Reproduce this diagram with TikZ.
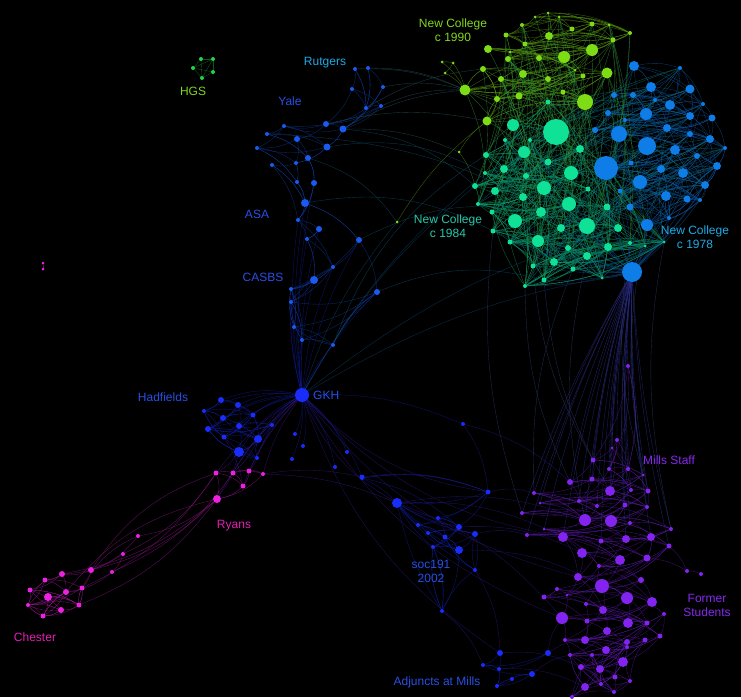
\documentclass[tikz,border=0pt]{standalone}
\usepackage{fontspec}
\setmainfont{Liberation Sans}
\usetikzlibrary{positioning}

\pgfdeclarelayer{back}
\pgfdeclarelayer{edges}
\pgfsetlayers{back,edges,main}

\definecolor{nclime}{RGB}{125,220,20}
\definecolor{ncteal}{RGB}{15,225,150}
\definecolor{ncblue}{RGB}{15,125,232}
\definecolor{yaleblue}{RGB}{25,90,240}
\definecolor{gkhblue}{RGB}{25,45,250}
\definecolor{millspurple}{RGB}{130,35,240}
\definecolor{ryanpink}{RGB}{235,35,225}
\definecolor{hgsgreen}{RGB}{35,210,70}
\definecolor{lbllime}{RGB}{130,215,30}
\definecolor{lblteal}{RGB}{40,200,170}
\definecolor{lblcyan}{RGB}{30,170,230}
\definecolor{lblblue}{RGB}{40,80,230}
\definecolor{lblpurple}{RGB}{135,40,238}
\definecolor{lblpink}{RGB}{225,30,180}

\begin{document}
\begin{tikzpicture}[x=1pt,y=-1pt]
    % --- Style Definitions ---
    \tikzset{
        vertex/.style={circle, inner sep=0pt, outer sep=0pt, draw=none},
        link/.style={line width=0.35pt, opacity=0.7},
        label text/.style={font=\fontsize{12}{14}\selectfont, align=center, inner sep=0pt}
    }

    % --- 1. Background ---
    \begin{pgfonlayer}{back}
    \fill[black] (0,0) rectangle (741,697);
    \end{pgfonlayer}
    \pgfmathsetseed{11}

    % --- 2. New College Clusters ---
    \foreach \x/\y/\r [count=\i] in {535/17/1.5, 548/13/1.5, 559/17/1.5, 522/25/2, 572/29/2.5,
        592/24/2.5, 609/25/1.5, 630/33/2, 506/35/2.5, 549/36/4, 525/44/2.5, 613/40/2.5,
        488/49/4, 510/52/1.5, 508/59/3, 539/58/3, 564/57/6, 592/50/6, 575/70/1.5, 483/69/3,
        523/74/4, 548/79/3, 583/76/2.5, 607/73/5.5, 501/79/3, 465/90/5.5, 497/99/3,
        519/96/3.5, 563/92/2.5, 585/102/8, 487/121/4.5, 442/62/1.5, 453/63/1.5, 445/73/1.5,
        459/152/1.5, 397/222/1.5}
        {\node[vertex, fill=nclime, minimum size=2*\r] (lm\i) at (\x,\y) {};}
    \def\nlm{31}

    \foreach \x/\y/\r [count=\i] in {548/102/2.5, 513/125/6, 556/132/13, 524/152/6, 580/149/4,
        486/155/3, 548/162/3.5, 504/169/4, 526/176/3, 571/173/7, 475/186/3, 495/191/4,
        544/188/7, 523/197/4, 569/204/7, 588/189/2.5, 485/173/2, 478/204/2, 492/212/2.5,
        541/212/5, 515/221/7, 561/228/4, 587/226/8, 607/207/3.5, 618/228/4, 493/231/2.5,
        510/242/2.5, 538/241/6, 568/248/3, 587/256/4, 608/247/4, 554/262/4, 533/266/2.5,
        544/280/2.5, 573/269/2.5, 525/286/2, 602/278/1.5, 630/243/2, 645/246/1.5,
        664/242/1.5, 530/140/2, 600/160/2, 505/140/2}
        {\node[vertex, fill=ncteal, minimum size=2*\r] (tl\i) at (\x,\y) {}; \xdef\ntl{\i}}

    \foreach \x/\y/\r [count=\i] in {634/66/5, 680/68/2, 651/87/5, 690/89/4.5, 614/95/3,
        633/95/3, 655/100/2, 670/105/5, 703/104/2, 608/113/3, 646/114/6, 690/116/4,
        712/118/3.5, 625/120/2, 667/128/4, 595/130/3, 619/134/8, 690/134/3, 710/139/4,
        647/146/9, 725/148/2, 675/150/5, 697/156/3, 631/163/2.5, 717/166/4, 606/168/12,
        661/169/4, 683/173/5, 640/182/7, 705/185/4, 620/191/2.5, 666/196/5, 687/199/3.5,
        700/200/2, 630/207/3.5, 669/218/2, 647/225/6}
        {\node[vertex, fill=ncblue, minimum size=2*\r] (bl\i) at (\x,\y) {}; \xdef\nbl{\i}}

    \node[vertex, fill=ncblue, minimum size=20] (nc78) at (632,272) {};

    % --- 3. Yale, Rutgers, ASA, CASBS ---
    \foreach \x/\y/\r [count=\i] in {355/69/2, 368/68/2, 352/89/2, 383/87/2, 366/108/2,
        381/106/2, 326/124/3, 343/129/3.5, 284/126/2, 267/134/2, 297/139/3, 327/147/3.5,
        257/148/2, 308/158/3, 296/163/2, 272/165/2, 297/182/2, 314/183/3, 305/203/4,
        298/220/2, 319/229/3, 307/239/2, 359/240/3, 333/267/2, 314/280/4, 291/289/2,
        377/292/3, 291/302/2, 294/327/2, 302/340/2, 333/345/2}
        {\node[vertex, fill=yaleblue, minimum size=2*\r] (yl\i) at (\x,\y) {}; \xdef\nyl{\i}}

    % --- 4. GKH, Hadfields, soc191, Adjuncts ---
    \node[vertex, fill=gkhblue, minimum size=14] (gkh) at (302,395) {};

    \foreach \x/\y/\r [count=\i] in {463/424/2, 347/452/2, 335/467/2, 362/477/2.5,
        303/446/2, 295/434/2, 292/459/2}
        {\node[vertex, fill=gkhblue, minimum size=2*\r] (gk\i) at (\x,\y) {}; \xdef\ngk{\i}}

    \foreach \x/\y/\r [count=\i] in {221/400/3, 238/405/3, 204/411/2, 223/418/3,
        253/415/2.5, 239/426/3, 208/429/3, 224/437/2.5, 258/439/4, 272/425/2, 239/452/5,
        257/458/2}
        {\node[vertex, fill=gkhblue, minimum size=2*\r] (hd\i) at (\x,\y) {}; \xdef\nhd{\i}}

    \node[vertex, fill=gkhblue, minimum size=10] (soc) at (397,503) {};
    \foreach \x/\y/\r [count=\i] in {362/478/2, 488/492/2.5, 438/518/2, 418/525/2,
        459/527/3, 428/533/2, 445/537/2.5, 475/534/3, 433/547/2, 459/550/4, 475/570/2,
        442/611/2}
        {\node[vertex, fill=gkhblue, minimum size=2*\r] (sc\i) at (\x,\y) {}; \xdef\nsc{\i}}

    \foreach \x/\y/\r [count=\i] in {500/653/3, 548/653/3, 483/665/2, 499/669/2,
        512/679/2, 532/674/3, 497/686/2}
        {\node[vertex, fill=gkhblue, minimum size=2*\r] (ad\i) at (\x,\y) {}; \xdef\nad{\i}}

    % --- 5. Mills ---
    \foreach \x/\y/\r [count=\i] in {628/366/2, 617/440/2, 612/448/1.5, 593/460/2.5,
        609/469/2, 628/469/2, 643/475/1.5, 592/479/2.5, 570/482/3, 610/491/5, 631/490/2,
        648/491/2.5, 534/493/2, 579/501/2, 540/503/1.5, 597/506/2, 625/505/2.5, 647/507/2,
        522/513/2, 585/520/6, 611/521/6, 630/523/2, 671/529/2, 544/529/1.5, 527/535/2,
        563/537/5, 601/541/2.5, 626/539/4, 651/537/4, 669/546/2.5, 582/553/5, 620/560/5,
        647/558/3.5, 599/566/2, 578/577/4, 641/580/3, 602/586/7, 557/589/2, 567/595/1.5,
        544/597/2.5, 627/598/6, 652/602/5, 586/604/2, 603/610/4, 664/614/2, 562/618/6,
        587/621/2.5, 628/623/5, 647/623/2.5, 607/631/4, 660/636/2.5, 585/640/4, 565/640/2,
        627/642/3, 645/640/2.5, 606/650/4, 627/647/2, 570/655/2, 592/655/2, 623/662/5,
        581/667/3, 600/669/4, 615/677/2.5, 630/681/2, 601/684/2, 585/687/4, 614/692/2,
        572/697/2, 687/571/2, 701/574/2}
        {\node[vertex, fill=millspurple, minimum size=2*\r] (ms\i) at (\x,\y) {};}
    \def\nms{68}

    % --- 6. Ryans, Chester, HGS ---
    \foreach \x/\y/\r [count=\i] in {216/473/2.5, 233/473/2.5, 249/471/2.5, 263/474/2,
        243/486/2.5, 217/499/4, 138/536/2, 123/554/2, 91/570/3, 112/572/2}
        {\node[vertex, fill=ryanpink, minimum size=2*\r] (ry\i) at (\x,\y) {};}

    \foreach \x/\y/\r [count=\i] in {62/574/3, 45/580/2.5, 82/588/2.5, 30/590/2.5,
        66/592/3, 48/597/4, 28/605/2, 79/605/2.5, 61/610/3, 43/616/2.5}
        {\node[vertex, fill=ryanpink, minimum size=2*\r] (ch\i) at (\x,\y) {}; \xdef\nch{\i}}

    \node[vertex, fill=ryanpink, minimum size=3] (iso1) at (43,263) {};
    \node[vertex, fill=ryanpink, minimum size=3] (iso2) at (43,269) {};

    \foreach \x/\y [count=\i] in {193/68, 201/59, 213/59, 213/72, 202/78}
        {\node[vertex, fill=hgsgreen, minimum size=4] (hg\i) at (\x,\y) {};}

    % --- 7. Links ---
    \begin{pgfonlayer}{edges}
    % inside the clusters (partner a few places further on in the list)
    \foreach \p/\n/\c/\s/\e in {lm/\nlm/nclime/8/6, tl/\ntl/ncteal/8/6, bl/\nbl/ncblue/8/6,
        yl/\nyl/yaleblue/4/3, hd/\nhd/gkhblue/5/4, sc/\nsc/gkhblue/4/3, ms/\nms/millspurple/9/4,
        ch/\nch/ryanpink/5/4, ad/\nad/gkhblue/3/2}
        \foreach \i in {1,...,\n}
            \foreach \k in {1,...,\e}
            {
                \pgfmathtruncatemacro\r{random(1,\s)}
                \pgfmathtruncatemacro\j{\i+\r>\n ? \i-\r : \i+\r}
                \draw[link, \c!65!black] (\p\i) to[bend left=14] (\p\j);
            }

    % across New College
    \foreach \i in {1,...,\ntl}
        \foreach \k in {1,2}
        {
            \pgfmathtruncatemacro\j{random(1,\nlm)}
            \pgfmathtruncatemacro\m{random(1,\nbl)}
            \pgfmathtruncatemacro\t{random(1,\ntl)}
            \draw[link, ncteal!50!nclime!65!black] (tl\i) to[bend right=10] (lm\j);
            \draw[link, ncteal!50!ncblue!65!black] (tl\i) to[bend left=10] (bl\m);
            \draw[link, ncteal!65!black] (tl\i) to[bend left=12] (tl\t);
        }
    \foreach \i in {1,...,\nbl}
    {
        \pgfmathtruncatemacro\j{random(1,\nbl)}
        \draw[link, ncblue!60!black] (bl\i) to[bend right=25] (bl\j);
    }
    \foreach \j in {20,...,\ntl}
        \draw[link, ncblue!65!black] (nc78) to[bend left=6] (tl\j);
    \foreach \j in {25,...,\nbl}
        \draw[link, ncblue!65!black] (nc78) to[bend right=6] (bl\j);
    \foreach \a/\b in {lm32/lm33, lm33/lm34, lm32/lm26, lm33/lm26, lm34/lm26, lm35/lm31,
        lm35/tl11, lm36/lm31}
        \draw[link, nclime!65!black] (\a) to[bend left=10] (\b);

    % down to Mills
    \foreach \j in {1,...,30}
        \draw[link, millspurple!50!ncblue!60!black] (nc78) to[bend right=5] (ms\j);
    \foreach \a/\b in {tl36/ms9, tl35/ms13, tl33/ms4, tl34/ms10, tl38/ms7, bl37/ms12,
        tl30/ms20, tl26/ms19, bl36/ms23}
        \draw[link, ncteal!40!millspurple!55!black] (\a) to[bend right=12] (\b);
    \foreach \a/\b in {ms30/ms69, ms33/ms69, ms69/ms70}
        \draw[link, millspurple!65!black] (\a) to[bend left=12] (\b);

    % Rutgers and Yale
    \foreach \a/\b in {lm26/yl1, lm26/yl2, lm26/yl4, lm26/yl6, lm26/yl8, lm31/yl7,
        lm35/yl8, lm20/yl5}
        \draw[link, nclime!40!yaleblue!60!black] (\a) to[bend right=12] (\b);
    \foreach \a/\b in {yl8/tl11, yl19/tl26, yl23/tl20, yl10/nc78, yl12/tl17, yl31/tl6,
        yl27/tl34, yl14/lm36}
        \draw[link, ncteal!45!yaleblue!55!black] (\a) to[bend left=18] (\b);

    % GKH
    \foreach \j in {1,...,\nhd}
        \draw[link, gkhblue!60!black] (gkh) to[bend right=15] (hd\j);
    \foreach \j in {1,...,6}
        \draw[link, ryanpink!40!gkhblue!55!black] (gkh) to[bend right=10] (ry\j);
    \foreach \j in {18,...,\nyl}
        \draw[link, gkhblue!60!black] (gkh) to[bend left=8] (yl\j);
    \foreach \j in {1,...,\ngk}
        \draw[link, gkhblue!60!black] (gkh) to[bend left=12] (gk\j);
    \foreach \b in {lm36, tl25, tl11, tl17, nc78}
        \draw[link, ncteal!45!gkhblue!55!black] (gkh) to[bend left=10] (\b);
    \foreach \b in {soc, sc2, ms26, ms35, ms46, ad1}
        \draw[link, gkhblue!45!millspurple!55!black] (gkh) to[bend right=18] (\b);

    % soc191 and Adjuncts
    \foreach \j in {1,...,\nsc}
        \draw[link, gkhblue!60!black] (soc) to[bend right=10] (sc\j);
    \foreach \a/\b in {soc/ms26, soc/ms20, soc/ms46, sc2/ms13, sc8/ms25, sc5/ms31,
        sc10/ms37, sc12/ad3, gk1/ms9, gk4/sc2, ad2/ms46, ad2/ms52, ad6/ms58, ad1/ms61,
        ad4/ms66, sc11/ad1, gk1/sc2}
        \draw[link, gkhblue!45!millspurple!55!black] (\a) to[bend left=14] (\b);

    % Ryans and Chester
    \foreach \a/\b in {ry1/ry2, ry2/ry3, ry3/ry4, ry1/ry5, ry2/ry5, ry3/ry5, ry5/ry6,
        ry1/ry6, ry4/ry6, ry2/ry4}
        \draw[link, ryanpink!65!black] (\a) to[bend left=16] (\b);
    \foreach \a/\b in {hd11/ry1, hd9/ry2, hd12/ry3, hd8/ry5, hd11/ry6, ry4/gk4, ry4/soc}
        \draw[link, ryanpink!40!gkhblue!55!black] (\a) to[bend left=10] (\b);
    \foreach \a/\b in {ry6/ry7, ry6/ry9, ry1/ry8, ry6/ch1, ry6/ch8, ry1/ch3, ry2/ry10,
        ry7/ry9, ry8/ry10, ry9/ch1, ry9/ch3, ry10/ch5, ry8/ch1}
        \draw[link, ryanpink!60!black] (\a) to[bend left=15] (\b);
    \foreach \a/\b in {ry6/ch5, ry1/ry9, ry7/ch3}
        \draw[link, ryanpink!60!black] (\a) to[bend right=18] (\b);

    % HGS and the lone pair
    \foreach \a/\b in {hg1/hg2, hg1/hg3, hg1/hg4, hg2/hg3, hg2/hg5, hg3/hg4, hg3/hg5,
        hg4/hg5, hg1/hg5}
        \draw[link, hgsgreen!60!black] (\a) -- (\b);
    \draw[link, ryanpink!60!black] (iso1) -- (iso2);
    \end{pgfonlayer}

    % --- 8. Labels ---
    \node[label text, text=lbllime] (lbl90) at (453,30) {New College\\c 1990};
    \node[label text, text=lblcyan] (lblru) at (325,63) {Rutgers};
    \node[label text, text=lbllime] (lblhg) at (193,91) {HGS};
    \node[label text, text=lblblue] (lblya) at (290,101) {Yale};
    \node[label text, text=lblblue] (lblas) at (257,214) {ASA};
    \node[label text, text=lblblue] (lblca) at (263,277) {CASBS};
    \node[label text, text=lblteal] (lbl84) at (448,226) {New College\\c 1984};
    \node[label text, text=lblcyan] (lbl78) at (695,237) {New College\\c 1978};
    \node[label text, text=lblblue] (lblhd) at (163,397) {Hadfields};
    \node[label text, text=lblblue, right=4pt of gkh] (lblgk) {GKH};
    \node[label text, text=lblpurple] (lblms) at (669,460) {Mills Staff};
    \node[label text, text=lblpink] (lblry) at (234,526) {Ryans};
    \node[label text, text=lblblue] (lblsc) at (431,571) {soc191\\2002};
    \node[label text, text=lblpurple] (lblfs) at (707,605) {Former\\Students};
    \node[label text, text=lblpink] (lblch) at (35,637) {Chester};
    \node[label text, text=lblblue] (lblad) at (437,682) {Adjuncts at Mills};

\end{tikzpicture}
\end{document}
